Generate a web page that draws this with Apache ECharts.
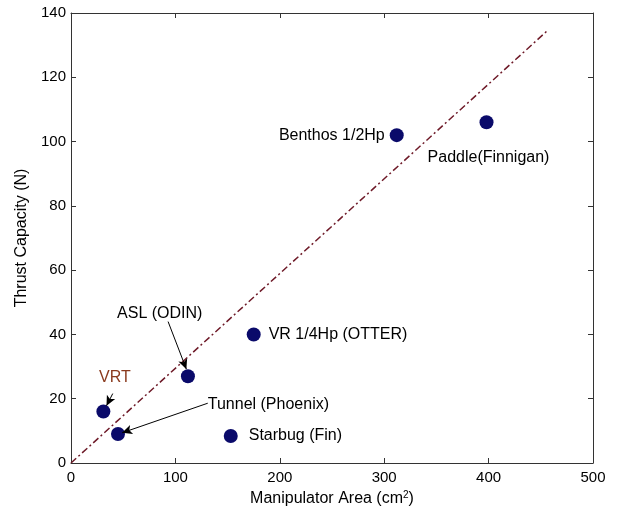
<!DOCTYPE html>
<html><head><meta charset="utf-8">
<script src="https://cdn.jsdelivr.net/npm/echarts@6/dist/echarts.min.js"></script>
<style>html,body{margin:0;padding:0;background:#fff}#c{width:617px;height:512px}</style>
</head><body><div id="c"></div>
<script>
var names = ['VRT','Tunnel (Phoenix)','ASL (ODIN)','Starbug (Fin)','VR 1/4Hp (OTTER)','Benthos 1/2Hp','Paddle(Finnigan)'];
var areas = [31, 45, 112, 153, 175, 312, 398];
var thrust = [16, 9, 27, 8.4, 40, 102, 106];
var fitLine = [[0, 0], [457, 134.7]];

var FONT = 'Liberation Sans';
var FS = 16;
var labelCfg = {
  'VR 1/4Hp (OTTER)': {position: 'right', distance: 8},
  'Starbug (Fin)': {position: 'right', distance: 11},
  'Benthos 1/2Hp': {position: 'left', distance: 5},
  'Paddle(Finnigan)': {position: 'bottom', distance: 20, offset: [2, 0]}
};
var pts = names.map(function(n, i){
  var d = {name: n, value: [areas[i], thrust[i]]};
  if (labelCfg[n]) d.label = Object.assign({show: true, formatter: n, color: '#000', fontFamily: FONT, fontSize: FS}, labelCfg[n]);
  return d;
});
// annotation texts with arrows (data coordinates)
var annots = [
  {text: 'VRT', at: [42, 26.6], color: '#8a3a1e', align: 'center', from: [40, 21.6], to: [34, 17.8]},
  {text: 'ASL (ODIN)', at: [85, 46.6], color: '#000', align: 'center', from: [93, 44.0], to: [110.5, 29.2]},
  {text: 'Tunnel (Phoenix)', at: [131, 18.3], color: '#000', align: 'left', from: [131, 18.6], to: [49, 9.4]}
];

var axisCommon = {
  type: 'value', splitLine: {show: false},
  axisLine: {show: true, onZero: false, lineStyle: {color: '#333', width: 1}},
  axisTick: {show: true, inside: true, length: 5, lineStyle: {color: '#333'}},
  axisLabel: {color: '#000', fontFamily: FONT, fontSize: 15}
};
var chart = echarts.init(document.getElementById('c'));
chart.setOption({
  animation: false,
  grid: {left: 71, right: 24, top: 13, bottom: 47},
  xAxis: [
    Object.assign({}, axisCommon, {min: 0, max: 500, interval: 100, position: 'bottom',
      name: '{a|Manipulator Area (cm}{s|2}{a|)}', nameLocation: 'middle', nameGap: 27,
      nameTextStyle: {rich: {a: {fontFamily: FONT, fontSize: FS, color: '#000'}, s: {fontFamily: FONT, fontSize: 10, color: '#000', verticalAlign: 'top', padding: [0,0,8,0]}}},
      axisLabel: {color: '#000', fontFamily: FONT, fontSize: 15, margin: 7}}),
    Object.assign({}, axisCommon, {min: 0, max: 500, interval: 100, position: 'top', axisLabel: {show: false}})
  ],
  yAxis: [
    Object.assign({}, axisCommon, {min: 0, max: 140, interval: 20, position: 'left',
      name: 'Thrust Capacity (N)', nameLocation: 'middle', nameGap: 40,
      nameTextStyle: {fontFamily: FONT, fontSize: FS, color: '#000'},
      axisLabel: {color: '#000', fontFamily: FONT, fontSize: 15, margin: 5}}),
    Object.assign({}, axisCommon, {min: 0, max: 140, interval: 20, position: 'right', axisLabel: {show: false}})
  ],
  series: [
    {type: 'line', data: fitLine, symbol: 'none', z: 2,
     lineStyle: {color: '#6e1a28', width: 1.5, type: [7, 3, 2, 3]}},
    {type: 'scatter', data: pts, symbol: 'circle', symbolSize: 14, z: 3,
     itemStyle: {color: '#0a0a6a', opacity: 1},
     label: {show: false}},
    {type: 'scatter', symbol: 'circle', symbolSize: 1, z: 4,
     itemStyle: {color: 'transparent', opacity: 1},
     data: annots.map(function(a){ return {value: a.at, label: {show: true, position: 'inside', formatter: a.text, color: a.color, opacity: 1, align: a.align, verticalAlign: 'middle', fontFamily: FONT, fontSize: FS}}; }),
     markLine: {silent: true, symbol: ['none', 'arrow'], symbolSize: [7, 10], label: {show: false},
       lineStyle: {color: '#000', width: 1, type: 'solid'},
       data: annots.map(function(a){ return [{coord: a.from}, {coord: a.to}]; })}}
  ]
});
</script></body></html>
